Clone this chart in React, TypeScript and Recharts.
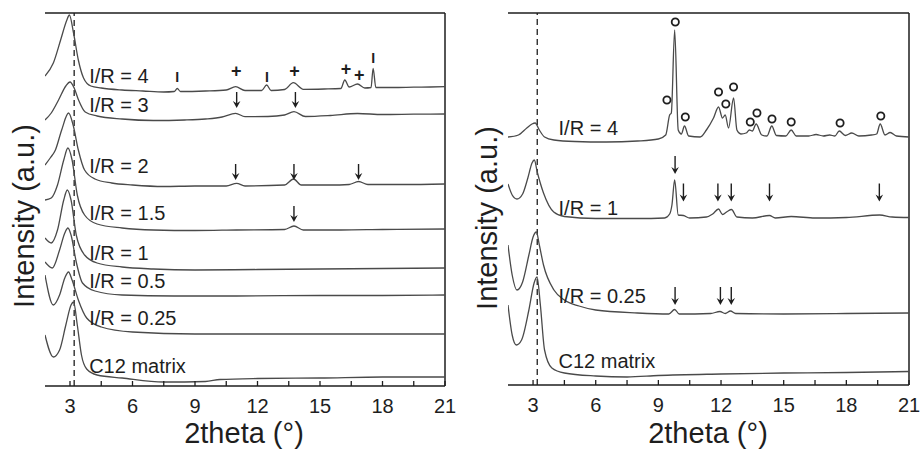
import React from 'react';
import { ComposedChart, Line, XAxis, YAxis, ReferenceLine, Scatter } from 'recharts';

// ---------- axis ----------
const xDomain: [number, number] = [1.8, 21];
const xTicks = [3, 4.5, 6, 7.5, 9, 10.5, 12, 13.5, 15, 16.5, 18, 19.5, 21];
const xTickLabels = ['3', '6', '9', '12', '15', '18', '21'];
const dashedX = 3.2;

// ---------- left panel curves [2theta, intensity] ----------
const leftIR4 = [[1.8,310],[2.2,323],[2.55,346],[2.85,366],[2.97,371],[3.17,353],[3.4,326],[3.65,308],[4.0,300],[4.5,298],[5.5,296],[6.5,295],[7.5,294],[8.0,294.5],[8.15,297.5],[8.3,294.5],[9.5,295],[10.5,296],[10.95,299.3],[11.4,295.5],[12.2,295.5],[12.44,301],[12.65,295.5],[13.3,296.5],[13.72,303.3],[14.2,296.7],[15.2,297],[16.0,297.5],[16.19,306],[16.4,299],[16.8,302],[17.15,298],[17.45,298.5],[17.55,317.7],[17.68,298.5],[18.5,298.5],[19.5,298.8],[20.3,299],[21,299.3]];
const leftIR3 = [[1.8,266],[2.1,273],[2.45,286],[2.8,300],[3.0,304],[3.2,298],[3.41,286],[3.73,274],[4.3,270],[5.5,267],[7,265.5],[8.5,266],[9.5,267],[10.3,269],[10.95,272.7],[11.4,269.3],[12.5,269.5],[13.3,271],[13.75,274.3],[14.3,269.5],[15.5,270.5],[16.8,272.5],[18,271.5],[19.5,271.8],[21,272]];
const leftIR2 = [[1.8,221],[2.05,228],[2.3,236],[2.6,256],[2.93,273],[3.15,261],[3.4,236],[3.7,216],[4.2,207],[5,203],[6,201],[7.5,199.5],[9,200],[10.5,200],[11.0,202.7],[11.4,200],[13.3,201],[13.73,207],[14.1,201],[15.5,201],[16.4,201.5],[16.85,204.5],[17.3,201.5],[19,201.5],[21,202]];
const leftIR15 = [[1.8,186],[2.1,188],[2.4,201],[2.7,226],[2.9,238],[3.1,226],[3.35,191],[3.7,171],[4.3,162],[5.5,158],[7,156],[9,155.5],[11,156],[13.3,156.5],[13.75,160],[14.2,156],[16,156],[18,156.5],[21,157]];
const leftIR1 = [[1.8,148],[2.1,143],[2.4,156],[2.7,186],[2.87,196],[3.05,186],[3.3,151],[3.7,131],[4.3,123],[5.5,119],[7,117],[9,116],[12,116.5],[15,117],[18,117.5],[21,118]];
const leftIR05 = [[1.8,124],[2.15,118],[2.5,136],[2.75,153],[2.9,158],[3.05,151],[3.3,124],[3.6,103],[4.2,95],[5.5,91],[8,90],[11,90],[15,90.5],[18,90.5],[21,91]];
const leftIR025 = [[1.8,111],[2.2,81],[2.5,91],[2.75,108],[2.93,114],[3.1,106],[3.4,86],[3.8,68],[4.5,59],[6,54],[9,52],[12,52],[15,52],[18,52],[21,52]];
const leftC12 = [[1.8,51],[2.2,29],[2.5,36],[2.8,61],[3.05,81],[3.17,84],[3.35,61],[3.55,31],[3.8,17],[4.3,11],[5.5,8],[7.5,4],[9.5,4.5],[10.2,6.5],[12,7.5],[15,8],[18,9],[21,9]];

// ---------- right panel curves ----------
const rightIR4 = [[1.8,248],[2.3,250],[2.7,257],[2.95,261],[3.1,262],[3.3,255],[3.55,248],[4.0,245],[5,243.5],[6.5,243],[8,244],[9.0,246],[9.35,250],[9.54,270],[9.62,272],[9.78,355],[9.95,255],[10.1,251],[10.25,259],[10.45,249],[11.0,248],[11.3,255],[11.64,267],[11.88,278],[12.07,267],[12.2,270],[12.36,257],[12.6,287],[12.76,255],[12.95,251],[13.2,252],[13.36,255],[13.5,254],[13.68,261],[13.95,250],[14.2,249],[14.43,259],[14.65,249.5],[15.1,249],[15.36,255],[15.6,249],[16.2,249],[16.55,250.5],[16.9,249],[17.2,250],[17.45,249],[17.66,254],[17.95,249.5],[18.26,252],[18.6,249],[19.2,250],[19.45,251],[19.62,261],[19.85,250],[20.1,252.5],[20.4,249],[21,248]];
const rightIR1 = [[1.8,201],[2.0,190],[2.23,186],[2.5,191],[2.75,207],[2.95,222],[3.06,225],[3.2,213],[3.5,192],[3.99,173],[4.5,168.5],[6,166.5],[8,166.5],[9.3,167],[9.54,171],[9.65,180],[9.78,205],[9.95,170],[10.2,169.5],[10.5,167],[11.3,168],[11.6,171],[11.88,176],[12.07,170.5],[12.3,173.5],[12.5,175.5],[12.76,168],[13.5,167],[14.32,169.5],[14.6,167],[15.36,168.5],[16.5,167],[18,167.5],[19.6,170],[20.2,168],[21,167.5]];
const rightIR025 = [[1.8,140],[2.0,110],[2.23,95],[2.5,103],[2.8,130],[3.0,148],[3.16,153],[3.3,140],[3.5,120],[4.0,95],[4.5,85],[5.2,79],[6,75],[8,72],[9.5,71],[9.78,75.5],[10.0,71],[11.5,71.5],[11.95,73.5],[12.2,71.5],[12.45,74],[12.7,71.5],[15,71],[18,71.5],[21,72]];
const rightC12 = [[1.8,80],[2.0,50],[2.2,40],[2.45,45],[2.8,75],[3.05,102],[3.19,108],[3.35,80],[3.55,35],[3.9,17],[4.5,12],[6,9],[7.5,8],[9,9.5],[12,11],[15,12],[18,12.5],[21,13.5]];

// ---------- annotations ----------
const leftLabels = [
  { x: 3.92, v: 303, t: 'I/R = 4' },
  { x: 3.92, v: 274, t: 'I/R = 3' },
  { x: 3.92, v: 213, t: 'I/R = 2' },
  { x: 3.92, v: 166, t: 'I/R = 1.5' },
  { x: 3.92, v: 126, t: 'I/R = 1' },
  { x: 3.92, v: 98, t: 'I/R = 0.5' },
  { x: 3.92, v: 61, t: 'I/R = 0.25' },
  { x: 3.92, v: 13, t: 'C12 matrix' },
];
const leftBars = [
  { x: 8.15, v: 309, t: 'I' },
  { x: 12.45, v: 309, t: 'I' },
  { x: 17.55, v: 328, t: 'I' },
];
const leftPlus = [
  { x: 10.98, v: 315.5, t: '+' },
  { x: 13.78, v: 315.5, t: '+' },
  { x: 16.25, v: 317, t: '+' },
  { x: 16.88, v: 311, t: '+' },
];
const leftArrows = [
  { x: 11.0, v: 286 },
  { x: 13.82, v: 286 },
  { x: 10.95, v: 214 },
  { x: 13.75, v: 214 },
  { x: 16.85, v: 214 },
  { x: 13.75, v: 172 },
];
const rightLabels = [
  { x: 4.22, v: 250, t: 'I/R = 4' },
  { x: 4.22, v: 170, t: 'I/R = 1' },
  { x: 4.22, v: 82, t: 'I/R = 0.25' },
  { x: 4.22, v: 17, t: 'C12 matrix' },
];
const rightCircles = [
  { x: 9.41, v: 285 }, { x: 9.81, v: 363 }, { x: 10.29, v: 268 },
  { x: 11.88, v: 293 }, { x: 12.23, v: 281 }, { x: 12.6, v: 298 },
  { x: 13.4, v: 263 }, { x: 13.72, v: 272 }, { x: 14.44, v: 266 },
  { x: 15.36, v: 263 }, { x: 17.7, v: 262 }, { x: 19.65, v: 269 },
];
const rightArrows = [
  { x: 9.8, v: 220 },
  { x: 10.2, v: 192.5 },
  { x: 11.85, v: 192.5 },
  { x: 12.49, v: 192.5 },
  { x: 14.32, v: 192.5 },
  { x: 19.58, v: 192.5 },
  { x: 9.8, v: 89 },
  { x: 11.97, v: 89 },
  { x: 12.49, v: 89 },
];

const FONT = '"Liberation Sans", Arial, Helvetica, sans-serif';
const INK = '#1e1e1e';
const CURVE = '#4a4a4a';

const toPts = (a: number[][]) => a.map(([x, v]) => ({ x, v }));

const textShape = (size: number, anchor: string, central: boolean, weight = 'normal') => (p: any) => (
  <text
    x={p.cx}
    y={p.cy}
    fontSize={size}
    fontFamily={FONT}
    fontWeight={weight}
    fill={INK}
    textAnchor={anchor}
    dominantBaseline={central ? 'central' : 'alphabetic'}
  >
    {p.payload.t}
  </text>
);

const circleShape = (p: any) => (
  <circle cx={p.cx} cy={p.cy} r={3.6} fill="#fff" stroke={INK} strokeWidth={1.8} />
);

const arrowShape = (len: number) => (p: any) => {
  const top = p.cy - len / 2;
  const bot = p.cy + len / 2;
  return (
    <g>
      <line x1={p.cx} y1={top} x2={p.cx} y2={bot - 3} stroke={INK} strokeWidth={1.4} />
      <path d={`M${p.cx - 3.8},${bot - 7} L${p.cx},${bot} L${p.cx + 3.8},${bot - 7} L${p.cx},${bot - 4.5} Z`} fill={INK} />
    </g>
  );
};

type PanelProps = {
  curves: number[][][];
  width: number;
  margin: { top: number; right: number; bottom: number; left: number };
  yMax: number;
  labels: any[];
  marks: { data: any[]; shape: any }[];
};

function Panel({ curves, width, margin, yMax, labels, marks }: PanelProps) {
  return (
    <ComposedChart width={width} height={450} margin={margin}>
      <XAxis
        dataKey="x"
        type="number"
        domain={xDomain}
        allowDataOverflow
        ticks={xTicks}
        interval={0}
        tickFormatter={(v: number) => (xTickLabels.includes(String(v)) ? String(v) : '')}
        tickSize={-5}
        tickMargin={18}
        height={30}
        tick={{ fontSize: 20, fill: INK, fontFamily: FONT }}
        tickLine={{ stroke: INK, strokeWidth: 1.3 }}
        axisLine={{ stroke: INK, strokeWidth: 1.5 }}
      />
      <YAxis type="number" domain={[0, yMax]} allowDataOverflow width={0} tick={false} tickLine={false} axisLine={{ stroke: INK, strokeWidth: 1.5 }} />
      {/* frame: top and right edges of the plot box */}
      <ReferenceLine y={yMax} stroke={INK} strokeWidth={1.5} />
      <ReferenceLine x={xDomain[1]} stroke={INK} strokeWidth={1.5} />
      <ReferenceLine x={dashedX} stroke={INK} strokeWidth={1.3} strokeDasharray="6 4" />
      {curves.map((c, i) => (
        <Line
          key={i}
          data={toPts(c)}
          dataKey="v"
          type="monotone"
          stroke={CURVE}
          strokeWidth={1.3}
          dot={false}
          activeDot={false}
          isAnimationActive={false}
        />
      ))}
      <Scatter data={labels} dataKey="v" shape={textShape(20, 'start', false)} isAnimationActive={false} />
      {marks.map((m, i) => (
        <Scatter key={'m' + i} data={m.data} dataKey="v" shape={m.shape} isAnimationActive={false} />
      ))}
    </ComposedChart>
  );
}

export default function App() {
  return (
    <div style={{ position: 'absolute', left: 0, top: 0, width: 922, height: 450, background: '#fff' }}>
      <div style={{ position: 'absolute', left: 0, top: 0 }}>
        <Panel
          curves={[leftIR4, leftIR3, leftIR2, leftIR15, leftIR1, leftIR05, leftIR025, leftC12]}
          width={460}
          margin={{ top: 13, right: 15, bottom: 34, left: 45 }}
          yMax={373}
          labels={leftLabels}
          marks={[
            { data: leftBars, shape: textShape(14, 'middle', true, 'bold') },
            { data: leftPlus, shape: textShape(18, 'middle', true, 'bold') },
            { data: leftArrows, shape: arrowShape(16) },
          ]}
        />
      </div>
      <div style={{ position: 'absolute', left: 460, top: 0 }}>
        <Panel
          curves={[rightIR4, rightIR1, rightIR025, rightC12]}
          width={462}
          margin={{ top: 13, right: 13, bottom: 35, left: 48 }}
          yMax={372}
          labels={rightLabels}
          marks={[
            { data: rightCircles, shape: circleShape },
            { data: rightArrows, shape: arrowShape(18) },
          ]}
        />
      </div>
      <svg width={922} height={450} style={{ position: 'absolute', left: 0, top: 0, pointerEvents: 'none' }}>
        <text x={244} y={443} fontSize={29} fontFamily={FONT} fill={INK} textAnchor="middle">2theta (°)</text>
        <text x={708} y={443} fontSize={29} fontFamily={FONT} fill={INK} textAnchor="middle">2theta (°)</text>
        <text transform="translate(34,216) rotate(-90)" fontSize={29} fontFamily={FONT} fill={INK} textAnchor="middle">Intensity (a.u.)</text>
        <text transform="translate(497,218) rotate(-90)" fontSize={29} fontFamily={FONT} fill={INK} textAnchor="middle">Intensity (a.u.)</text>
      </svg>
    </div>
  );
}
